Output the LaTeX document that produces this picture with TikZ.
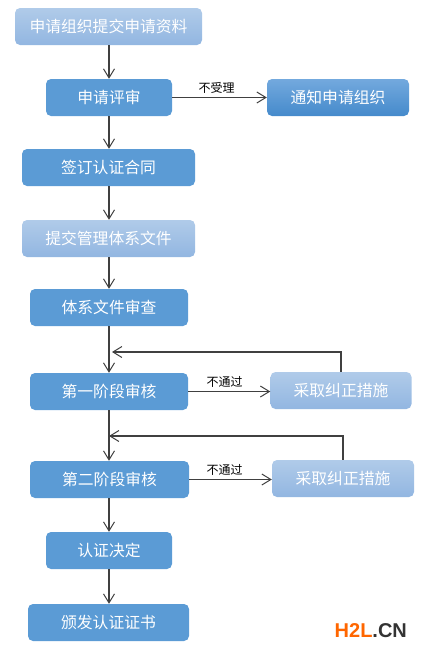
\documentclass[tikz,border=0pt]{standalone}
\usepackage{fontspec}
\setmainfont{Liberation Sans}
\newfontfamily\cjk{Noto Sans CJK SC}
\usetikzlibrary{arrows.meta}
\definecolor{midb}{HTML}{5B9BD5}
\definecolor{lighttop}{HTML}{B0CBE9}
\definecolor{lightbot}{HTML}{92B6E1}
\definecolor{notetop}{HTML}{73A9DE}
\definecolor{notebot}{HTML}{458ACB}
\definecolor{linec}{HTML}{404040}
\tikzset{
  x=1pt,y=-1pt,
  flowbox/.style={rounded corners=5pt,text=white,inner sep=0pt,minimum height=37pt,font=\cjk\fontsize{15.8}{18}\selectfont},
  midbox/.style={flowbox,fill=midb},
  lightbox/.style={flowbox,top color=lighttop,bottom color=lightbot},
  notebox/.style={flowbox,top color=notetop,bottom color=notebot},
  conn/.style={draw=linec,line width=1.1pt,-{Straight Barb[length=9pt,width=11pt,line width=1pt]}},
  plainlabel/.style={font=\cjk\fontsize{12}{14}\selectfont,text=black,inner sep=0pt},
}
\begin{document}
\begin{tikzpicture}
\useasboundingbox (0,0) rectangle (421,653);
\node[lightbox,minimum width=187pt] (a) at (108.5,26.5) {申请组织提交申请资料};
\node[midbox,minimum width=126pt] (b) at (109,97.5) {申请评审};
\node[notebox,minimum width=142pt] (n) at (338,97.5) {通知申请组织};
\node[midbox,minimum width=173pt] (c) at (108.5,167.5) {签订认证合同};
\node[lightbox,minimum width=173pt] (d) at (108.5,238.5) {提交管理体系文件};
\node[midbox,minimum width=158pt] (e) at (109,307.5) {体系文件审查};
\node[midbox,minimum width=158pt] (f) at (109,391.5) {第一阶段审核};
\node[lightbox,minimum width=141pt] (g) at (341,390.5) {采取纠正措施};
\node[midbox,minimum width=159pt] (h) at (109.5,479.5) {第二阶段审核};
\node[lightbox,minimum width=142pt] (i) at (343,478.5) {采取纠正措施};
\node[midbox,minimum width=126pt] (j) at (109,550.5) {认证决定};
\node[midbox,minimum width=161pt] (k) at (108.5,622.5) {颁发认证证书};
\coordinate (m1) at (112,352);
\coordinate (m2) at (109,436);
\draw[conn] (a.south -| b.north) -- (b.north);
\draw[conn] (b.south) -- (b.south |- c.north);
\draw[conn] (c.south -| b.north) -- (b.north |- d.north);
\draw[conn] (d.south -| e.north) -- (e.north);
\draw[conn] (e.south) -- (f.north);
\draw[conn] (f.south) -- (f.south |- h.north);
\draw[conn] (h.south -| j.north) -- (j.north);
\draw[conn] (j.south) -- (j.south |- k.north);
\draw[conn] (b) -- node[plainlabel,above=4pt,pos=.47] (lb) {不受理} (n);
\draw[conn] (f.east) -- node[plainlabel,above=4pt,pos=.445] (lf) {不通过} (f.east -| g.west);
\draw[conn] (h.east) -- node[plainlabel,above=4pt,pos=.43] (lh) {不通过} (h.east -| i.west);
\draw[conn] (g.north) |- (m1);
\draw[conn] (i.north) |- (m2);
\node[anchor=base west,inner sep=0pt,font=\bfseries\fontsize{20}{22}\selectfont] (w) at (334.5,637) {\textcolor[HTML]{FF6600}{H2L}\textcolor[HTML]{333333}{.CN}};
\end{tikzpicture}
\end{document}
